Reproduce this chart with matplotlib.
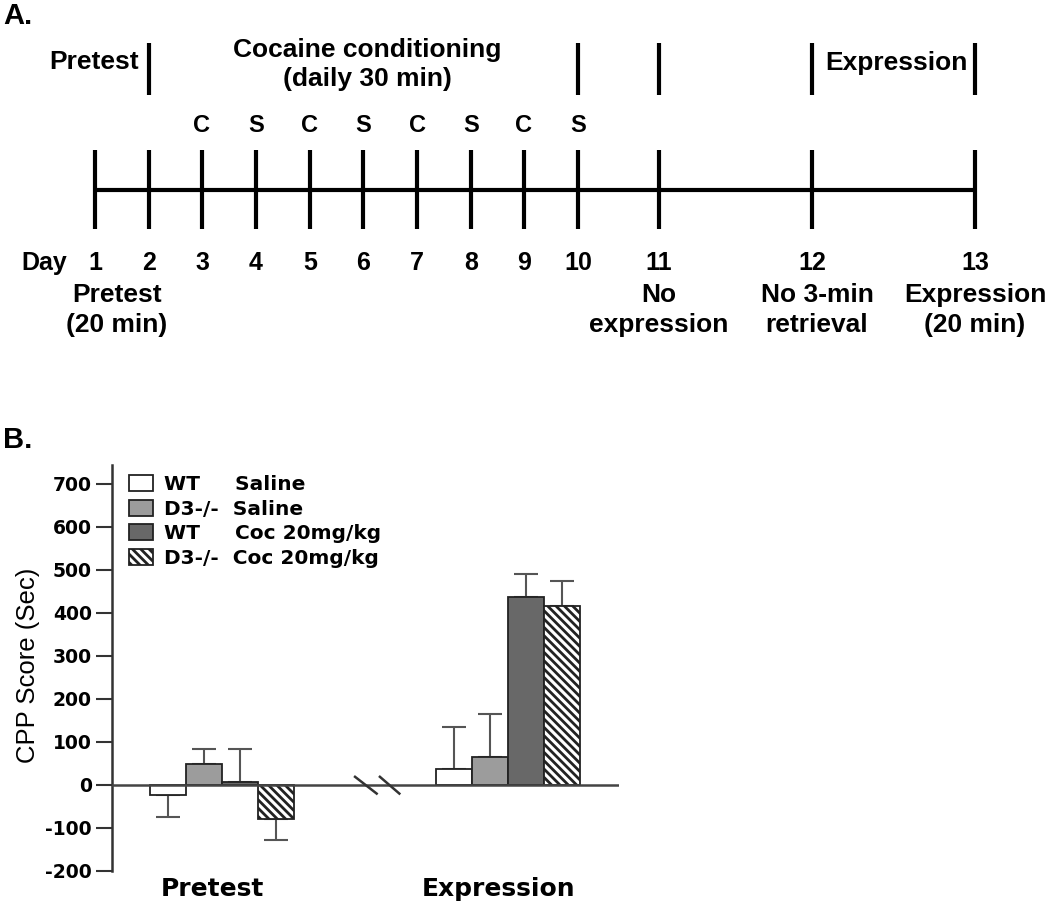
import matplotlib
matplotlib.use('Agg')
import matplotlib.pyplot as plt
import numpy as np

# ---- data: timeline (panel A)
days = list(range(1, 14))
sessions = ['C', 'S', 'C', 'S', 'C', 'S', 'C', 'S']
session_days = [3, 4, 5, 6, 7, 8, 9, 10]
phase_marks = [2, 10, 11, 12, 13]
top_labels = ['Pretest', 'Cocaine conditioning', '(daily 30 min)', 'Expression']
under_labels = [('Pretest', '(20 min)'), ('No', 'expression'),
                ('No 3-min', 'retrieval'), ('Expression', '(20 min)')]

# ---- data: CPP scores (panel B)
groups = ['Pretest', 'Expression']
series = ['WT     Saline', 'D3-/-  Saline', 'WT     Coc 20mg/kg', 'D3-/-  Coc 20mg/kg']
wt_saline = [-23, 38]
wt_saline_err = [52, 96]
d3_saline = [48, 65]
d3_saline_err = [35, 99]
wt_coc = [7, 437]
wt_coc_err = [76, 54]
d3_coc = [-78, 415]
d3_coc_err = [51, 60]
y_ticks = list(range(-200, 701, 100))

plt.rcParams['hatch.linewidth'] = 2.0

fig = plt.figure(figsize=(10.5, 9.06), dpi=100)

# panel A is a schematic, laid out in figure pixels
ax_a = fig.add_axes([0, 0, 1, 1])
ax_a.set_xlim(0, 1050)
ax_a.set_ylim(906, 0)
ax_a.axis('off')

day_x = [95, 149, 202, 256, 310, 363, 417, 471, 524, 578, 659, 812, 975]
fa = dict(family='Liberation Sans', weight='bold', color='black')

ax_a.plot([day_x[0], day_x[-1]], [190, 190], color='black', lw=3,
          solid_capstyle='butt')
ax_a.vlines(day_x, 150, 229, color='black', lw=3)
ax_a.vlines([day_x[d - 1] for d in phase_marks], 43, 95, color='black', lw=3)

for d, s in zip(session_days, sessions):
    ax_a.text(day_x[d - 1], 126, s, ha='center', va='center', size=17, **fa)
for d, x in zip(days, day_x):
    ax_a.text(x, 263, str(d), ha='center', va='center', size=18, **fa)
ax_a.text(67, 263, 'Day', ha='right', va='center', size=18, **fa)

ax_a.text(94, 62, top_labels[0], ha='center', va='center', size=19, **fa)
ax_a.text(367, 50, top_labels[1], ha='center', va='center', size=19, **fa)
ax_a.text(367, 79, top_labels[2], ha='center', va='center', size=19, **fa)
ax_a.text(896, 63, top_labels[3], ha='center', va='center', size=19, **fa)

for xc, (l1, l2) in zip([117, 659, 817, 975], under_labels):
    ax_a.text(xc, 295, l1, ha='center', va='center', size=19, **fa)
    ax_a.text(xc, 325, l2, ha='center', va='center', size=19, **fa)

ax_a.text(3, 16, 'A.', ha='left', va='center', size=21, **fa)
ax_a.text(3, 440, 'B.', ha='left', va='center', size=21, **fa)

# ---- panel B
ax = fig.add_axes([112 / 1050, 35 / 906, 507 / 1050, 406 / 906])
ax.patch.set_alpha(0)

width = 1.0
centers = np.array([3.056, 11.0])
offsets = (np.arange(4) - 1.5) * width
values = [wt_saline, d3_saline, wt_coc, d3_coc]
errors = [wt_saline_err, d3_saline_err, wt_coc_err, d3_coc_err]
faces = ['white', '#9c9c9c', '#686868', 'white']
hatches = [None, None, None, '\\\\\\\\']

for i in range(4):
    x = centers + offsets[i]
    vals = np.array(values[i])
    errs = np.array(errors[i])
    lower = np.where(vals < 0, errs, 0)
    upper = np.where(vals >= 0, errs, 0)
    ax.bar(x, vals, width, color=faces[i], edgecolor='#222222', linewidth=1.3,
           hatch=hatches[i], label=series[i], zorder=2)
    ax.errorbar(x, vals, yerr=[lower, upper], fmt='none', ecolor='#555555',
                elinewidth=1.5, capsize=8.5, capthick=1.5, zorder=1)

ax.axhline(0, color='#444444', lw=1.8, zorder=3)
# axis break marks between the two phases
ax.plot([6.75, 7.35], [19, -20], color='#333333', lw=1.8, zorder=4)
ax.plot([7.44, 7.98], [19, -20], color='#333333', lw=1.8, zorder=4)

ax.set_xlim(0, 14.08)
ax.set_ylim(-200, 744)
ax.set_yticks(y_ticks, [str(t) for t in y_ticks], family='DejaVu Sans',
              fontweight='bold', fontsize=13.5)
ax.set_xticks(centers - 0.27, groups, family='DejaVu Sans',
              fontweight='bold', fontsize=18)
ax.tick_params(axis='y', length=11.5, width=1.5, color='#333333', pad=3)
ax.tick_params(axis='x', length=0, pad=4)
for side in ['top', 'right', 'bottom']:
    ax.spines[side].set_visible(False)
ax.spines['left'].set_color('#333333')
ax.spines['left'].set_linewidth(1.8)

fig.text(28 / 1050, 1 - 665 / 906, 'CPP Score (Sec)', rotation=90,
         ha='center', va='center', family='Liberation Sans', size=18.5)

ax.legend(loc='upper left', bbox_to_anchor=(0.034, 0.975), frameon=False,
          prop=dict(family='DejaVu Sans', weight='bold', size=14.5),
          handlelength=1.2, handleheight=0.85, handletextpad=0.55,
          labelspacing=0.28, borderaxespad=0, borderpad=0)

fig.savefig('out.png', dpi=100)
